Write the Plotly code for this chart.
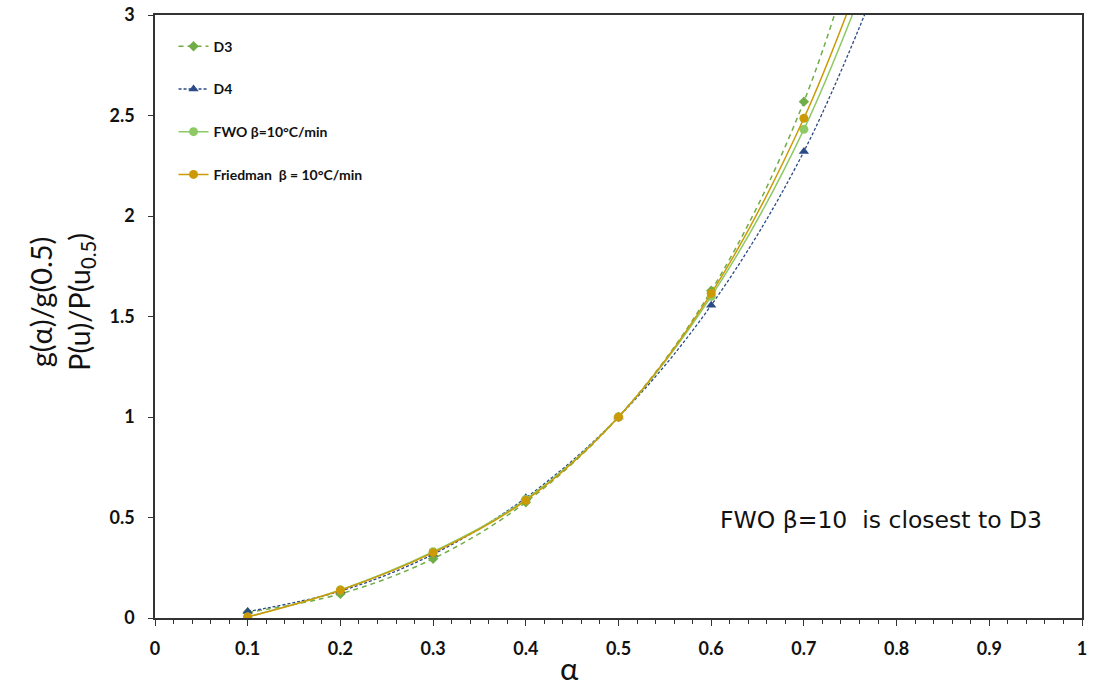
import plotly.graph_objects as go

# Conversion degree values
alpha = [0.1, 0.2, 0.3, 0.4, 0.5, 0.6, 0.7, 0.8]

# Reduced master-plot values g(α)/g(0.5) for the two diffusion models
d3 = [0.028, 0.12, 0.295, 0.576, 1.00, 1.628, 2.569, 4.05]
d4 = [0.032, 0.134, 0.317, 0.598, 1.00, 1.556, 2.321, 3.40]

# Experimental P(u)/P(u0.5) curves at β = 10 °C/min
fwo = [0.005, 0.14, 0.33, 0.59, 1.00, 1.60, 2.431, 3.58]
friedman = [0.005, 0.138, 0.325, 0.585, 1.00, 1.615, 2.486, 3.68]

x_ticks = [0, 0.1, 0.2, 0.3, 0.4, 0.5, 0.6, 0.7, 0.8, 0.9, 1]
y_ticks = [0, 0.5, 1, 1.5, 2, 2.5, 3]

series = [
    dict(name="D3", y=d3, color="#70AD47", dash="5px,4px", width=1.5,
         symbol="diamond", size=8),
    dict(name="D4", y=d4, color="#2B4A86", dash="3px,2px", width=1.3,
         symbol="triangle-up", size=9),
    dict(name="FWO β=10°C/min", y=fwo, color="#8DCA66", dash="solid", width=1.5,
         symbol="circle", size=9),
    dict(name="Friedman  β = 10°C/min", y=friedman, color="#CC9A06", dash="solid",
         width=1.5, symbol="circle", size=9),
]

fig = go.Figure()
for s in series:
    fig.add_trace(go.Scatter(
        x=alpha, y=s["y"], name=s["name"], legendgroup=s["name"],
        mode="lines+markers",
        line=dict(color=s["color"], dash=s["dash"], width=s["width"],
                  shape="spline", smoothing=1),
        marker=dict(symbol=s["symbol"], size=s["size"], color=s["color"]),
        cliponaxis=True,
    ))

tick_font = dict(family="Lato", size=18, color="#111111", weight="bold")

fig.update_layout(
    width=1107, height=689,
    margin=dict(l=155, r=25, t=15, b=71),
    paper_bgcolor="white", plot_bgcolor="white",
    showlegend=True,
    legend=dict(x=0.02, y=0.974, xanchor="left", yanchor="top",
                bgcolor="rgba(0,0,0,0)", tracegroupgap=21.5,
                font=dict(family="Lato", size=14, color="#111111", weight="bold")),
    xaxis=dict(
        range=[0, 1], tickvals=x_ticks, showgrid=False, zeroline=False,
        automargin=False,
        showline=True, linecolor="#333333", linewidth=1.5, mirror=True,
        ticks="outside", ticklen=6, tickwidth=1.3, tickcolor="#333333",
        ticklabelstandoff=8,
        minor=dict(dtick=0.02, ticks="outside", ticklen=4, tickwidth=1,
                   tickcolor="#333333", showgrid=False),
        tickfont=tick_font,
    ),
    yaxis=dict(
        range=[0, 3], tickvals=y_ticks, showgrid=False, zeroline=False,
        automargin=False,
        showline=True, linecolor="#333333", linewidth=1.5, mirror=True,
        ticks="outside", ticklen=5, tickwidth=1.3, tickcolor="#333333",
        ticklabelstandoff=10,
        tickfont=tick_font,
    ),
)

# x-axis title
fig.add_annotation(
    text="α",
    xref="paper", yref="paper", x=0.447, y=-71 / 603,
    xanchor="center", yanchor="bottom", showarrow=False,
    font=dict(family="Lato", size=31, color="#111111"),
)

# Two-line rotated y-axis title
fig.add_annotation(
    text="g(α)/g(0.5)<br>P(u)/P(u<sub>0.5</sub>)",
    xref="paper", yref="paper", x=(61 - 155) / 927, y=(618 - 302) / 603,
    xanchor="center", yanchor="middle", textangle=-90, showarrow=False,
    font=dict(family="Lato", size=29, color="#111111"),
)

fig.add_annotation(
    text="FWO β=10  is closest to D3",
    xref="paper", yref="paper", x=(718 - 155) / 927, y=(618 - 520) / 603,
    xanchor="left", yanchor="middle", showarrow=False,
    font=dict(family="DejaVu Sans", size=23.5, color="#111111"),
)

fig.write_html("out.html")
